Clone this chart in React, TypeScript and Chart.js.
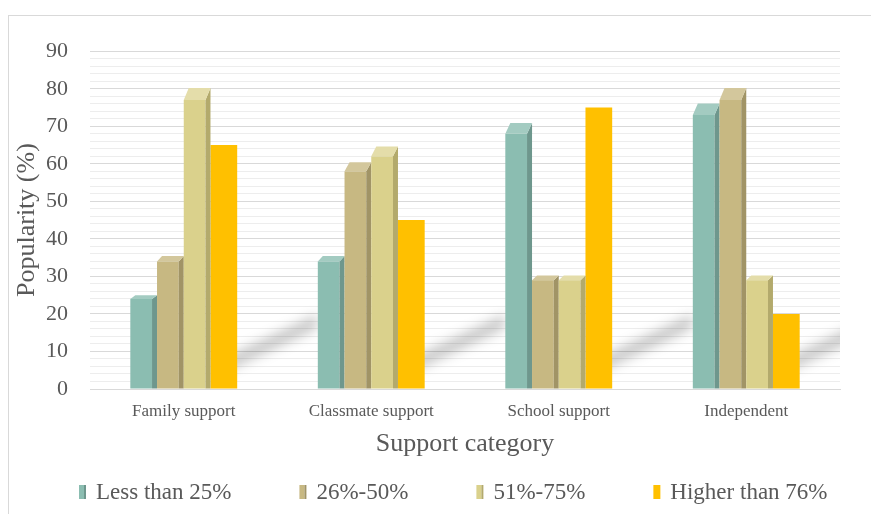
import React, { useEffect, useRef } from "react";
import { Chart, registerables } from "chart.js";

Chart.register(...registerables);

const categories = ["Family support", "Classmate support", "School support", "Independent"];
const seriesNames = ["Less than 25%", "26%-50%", "51%-75%", "Higher than 76%"];
const lessThan25 = [24, 34, 68, 73];
const from26to50 = [34, 58, 29, 77];
const from51to75 = [77, 62, 29, 29];
const higherThan76 = [65, 45, 75, 20];
const yMin = 0;
const yMax = 90;
const yStep = 2;
const yLabelStep = 10;

const FONT = "'Liberation Serif', 'Times New Roman', serif";
const TEXT = "#595959";
const frontColors = ["#8BBDB1", "#C7B882", "#DAD18C", "#FFC000"];
const sideColors = ["#6E978D", "#A19466", "#B3AA6C", "#FFC000"];
const topColors = ["#A3CBC1", "#D3C79C", "#E4DDAA", "#FFC000"];
const is3D = [true, true, true, false];

const bars3d = {
  id: "bars3d",
  beforeDatasetsDraw(chart: any) {
    const ctx = chart.ctx;
    const area = chart.chartArea;
    const meta = chart.getDatasetMeta(3);
    ctx.save();
    ctx.beginPath();
    ctx.rect(area.left, area.top, area.right - area.left, area.bottom - area.top);
    ctx.clip();
    ctx.filter = "blur(6px)";
    ctx.fillStyle = "rgba(0,0,0,0.22)";
    meta.data.forEach((el: any) => {
      const { x, width, base } = el.getProps(["x", "width", "base"], true);
      const xr = x + width / 2;
      ctx.beginPath();
      ctx.moveTo(xr - 10, base - 18);
      ctx.lineTo(xr + 80, base - 60);
      ctx.lineTo(xr + 80, base - 74);
      ctx.lineTo(xr - 10, base - 32);
      ctx.closePath();
      ctx.fill();
    });
    ctx.restore();
  },
  beforeDatasetDraw(chart: any, args: any) {
    if (is3D[args.index]) return false;
    return true;
  },
  afterDatasetsDraw(chart: any) {
    const ctx = chart.ctx;
    ctx.save();
    chart.data.datasets.forEach((ds: any, di: number) => {
      if (!is3D[di]) return;
      const meta = chart.getDatasetMeta(di);
      meta.data.forEach((el: any) => {
        const { x, y, width, base } = el.getProps(["x", "y", "width", "base"], true);
        const side = 5;
        const x0 = x - width / 2;
        const x1 = x + width / 2 - side;
        const dy = Math.max(3, 0.042 * (base - y));
        ctx.fillStyle = frontColors[di];
        ctx.fillRect(x0, y, x1 - x0, base - y);
        ctx.fillStyle = sideColors[di];
        ctx.beginPath();
        ctx.moveTo(x1, base);
        ctx.lineTo(x1, y);
        ctx.lineTo(x1 + side, y - dy);
        ctx.lineTo(x1 + side, base);
        ctx.closePath();
        ctx.fill();
        ctx.fillStyle = topColors[di];
        ctx.beginPath();
        ctx.moveTo(x0, y);
        ctx.lineTo(x0 + side, y - dy);
        ctx.lineTo(x1 + side, y - dy);
        ctx.lineTo(x1, y);
        ctx.closePath();
        ctx.fill();
      });
    });
    ctx.restore();
  },
  afterDraw(chart: any) {
    const ctx = chart.ctx;
    ctx.save();
    ctx.font = `23px ${FONT}`;
    ctx.textBaseline = "middle";
    const cy = chart.height - 21;
    let cx = 70;
    chart.data.datasets.forEach((ds: any, di: number) => {
      if (is3D[di]) {
        ctx.fillStyle = frontColors[di];
        ctx.fillRect(cx, cy - 7, 5, 14);
        ctx.fillStyle = sideColors[di];
        ctx.fillRect(cx + 5, cy - 7, 2, 14);
      } else {
        ctx.fillStyle = frontColors[di];
        ctx.fillRect(cx, cy - 7, 7, 14);
      }
      ctx.fillStyle = TEXT;
      ctx.fillText(ds.label, cx + 17, cy + 1);
      cx += 17 + ctx.measureText(ds.label).width + 68;
    });
    ctx.restore();
  },
};

export default function App() {
  const ref = useRef<HTMLCanvasElement | null>(null);
  useEffect(() => {
    if (!ref.current) return;
    const seriesValues = [lessThan25, from26to50, from51to75, higherThan76];
    const chart = new Chart(ref.current, {
      type: "bar",
      data: {
        labels: categories,
        datasets: seriesNames.map((name, i) => ({
          label: name,
          data: seriesValues[i],
          backgroundColor: frontColors[i],
          borderWidth: 0,
          categoryPercentage: 0.57,
          barPercentage: 1,
        })),
      },
      options: {
        animation: false,
        responsive: true,
        maintainAspectRatio: false,
        layout: { padding: { top: 28, right: 38, bottom: 53.4, left: 0 } },
        plugins: { legend: { display: false }, tooltip: { enabled: false } },
        scales: {
          x: {
            grid: { display: false, drawTicks: false },
            border: { display: true, color: "#D9D9D9", width: 1 },
            ticks: { color: TEXT, font: { family: FONT, size: 17 }, padding: 12 },
            title: {
              display: true,
              text: "Support category",
              color: TEXT,
              font: { family: FONT, size: 26 },
              padding: 0,
            },
            afterFit(s: any) {
              s.height = 70.6;
            },
          },
          y: {
            min: yMin,
            max: yMax,
            ticks: {
              stepSize: yStep,
              autoSkip: false,
              color: TEXT,
              font: { family: FONT, size: 22 },
              padding: 22,
              callback: (v: any) => (Number(v) % yLabelStep === 0 ? String(v) : ""),
            },
            grid: {
              drawTicks: false,
              color: (c: any) => (c.tick && c.tick.value % yLabelStep === 0 ? "#D9D9D9" : "#EDEDED"),
              lineWidth: 1,
            },
            border: { display: false },
            title: {
              display: true,
              text: "Popularity (%)",
              color: TEXT,
              font: { family: FONT, size: 26 },
              padding: { top: 3, bottom: 0 },
            },
            afterFit(s: any) {
              s.width = 81;
            },
          },
        },
      },
      plugins: [bars3d],
    } as any);
    return () => chart.destroy();
  }, []);

  return (
    <div
      style={{
        marginTop: 7,
        width: 869,
        height: 498,
        borderTop: "1px solid #D9D9D9",
        borderLeft: "1px solid #D9D9D9",
        borderRight: "1px solid #D9D9D9",
        position: "relative",
        background: "#FFFFFF",
      }}
    >
      <div style={{ position: "absolute", left: 0, top: 0, width: 869, height: 497 }}>
        <canvas ref={ref} />
      </div>
    </div>
  );
}
